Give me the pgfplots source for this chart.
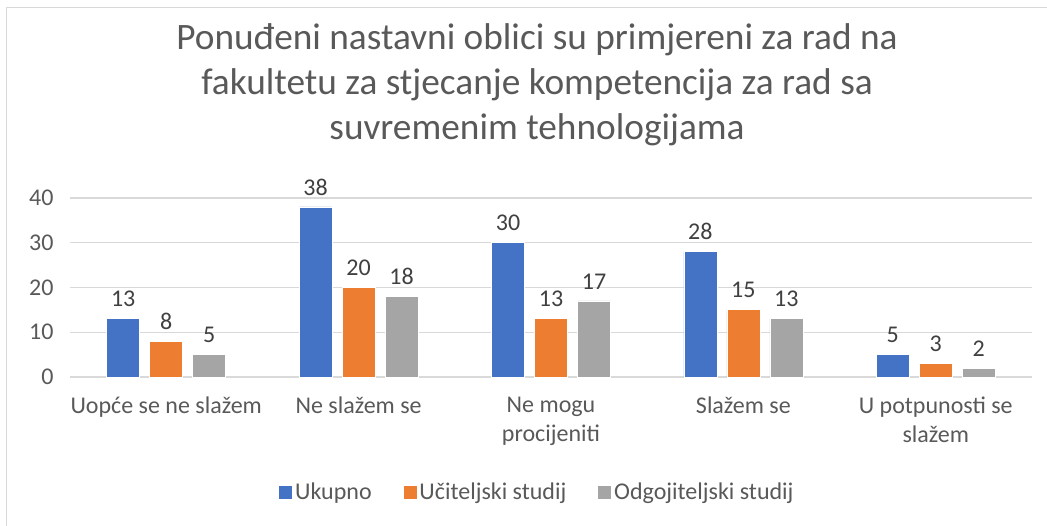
\documentclass[border=0pt]{standalone}
\usepackage{pgfplots}
\pgfplotsset{compat=1.18}
\usepackage{fontspec}
\setmainfont{Carlito}
\definecolor{cblue}{HTML}{4472C4}
\definecolor{corange}{HTML}{ED7D31}
\definecolor{cgray}{HTML}{A5A5A5}
\definecolor{gridc}{HTML}{D9D9D9}
\definecolor{txt}{HTML}{595959}
\definecolor{lbl}{HTML}{404040}
\begin{document}
\begin{tikzpicture}[x=1pt,y=1pt]
\begin{axis}[
  at={(0,0)}, anchor=south west,
  scale only axis, width=962pt, height=179pt,
  ymin=0, ymax=40, xmin=-0.5, xmax=4.5,
  ybar=10pt, bar width=33pt,
  axis line style={draw=none},
  tick style={draw=none},
  ymajorgrids, grid style={gridc, line width=1.3pt},
  ytick={0,10,20,30,40},
  xtick={0,1,2,3,4},
  xticklabels={Uopće se ne slažem, Ne slažem se, {Ne mogu\\procijeniti}, Slažem se, {U potpunosti se\\slažem}},
  yticklabel style={font=\fontsize{24}{29}\selectfont, text=txt, xshift=-13pt},
  xticklabel style={font=\fontsize{24}{29}\selectfont, text=txt, align=center, yshift=-12pt},
  /pgf/number format/assume math mode=true,
  nodes near coords,
  every node near coord/.append style={font=\fontsize{24}{29}\selectfont, text=lbl, yshift=8pt},
  legend style={at={(0.4854,-0.642)}, anchor=center, draw=none, legend columns=-1,
    font=\fontsize{24}{29}\selectfont, text=txt, nodes={inner sep=2pt},
    /tikz/every even column/.append style={column sep=29pt}},
  legend image code/.code={\fill[#1] (0pt,-7pt) rectangle (14pt,7pt);},
]
\addplot[fill=cblue, draw=white, line width=0.8pt] coordinates {(0,13) (1,38) (2,30) (3,28) (4,5)};
\addplot[fill=corange, draw=white, line width=0.8pt] coordinates {(0,8) (1,20) (2,13) (3,15) (4,3)};
\addplot[fill=cgray, draw=white, line width=0.8pt] coordinates {(0,5) (1,18) (2,17) (3,13) (4,2)};
\legend{Ukupno, Učiteljski studij, Odgojiteljski studij}
\end{axis}
\node[align=center, text=txt, font=\fontsize{37.3}{45}\selectfont] at (467,292)
  {Ponuđeni nastavni oblici su primjereni za rad na\\fakultetu za stjecanje kompetencija za rad sa\\suvremenim tehnologijama};
\draw[gridc, line width=1pt] (-63,-170) rectangle (1000,369);
\pgfresetboundingbox
\path[use as bounding box] (-70,-148) rectangle (977,377);
\end{tikzpicture}
\end{document}
